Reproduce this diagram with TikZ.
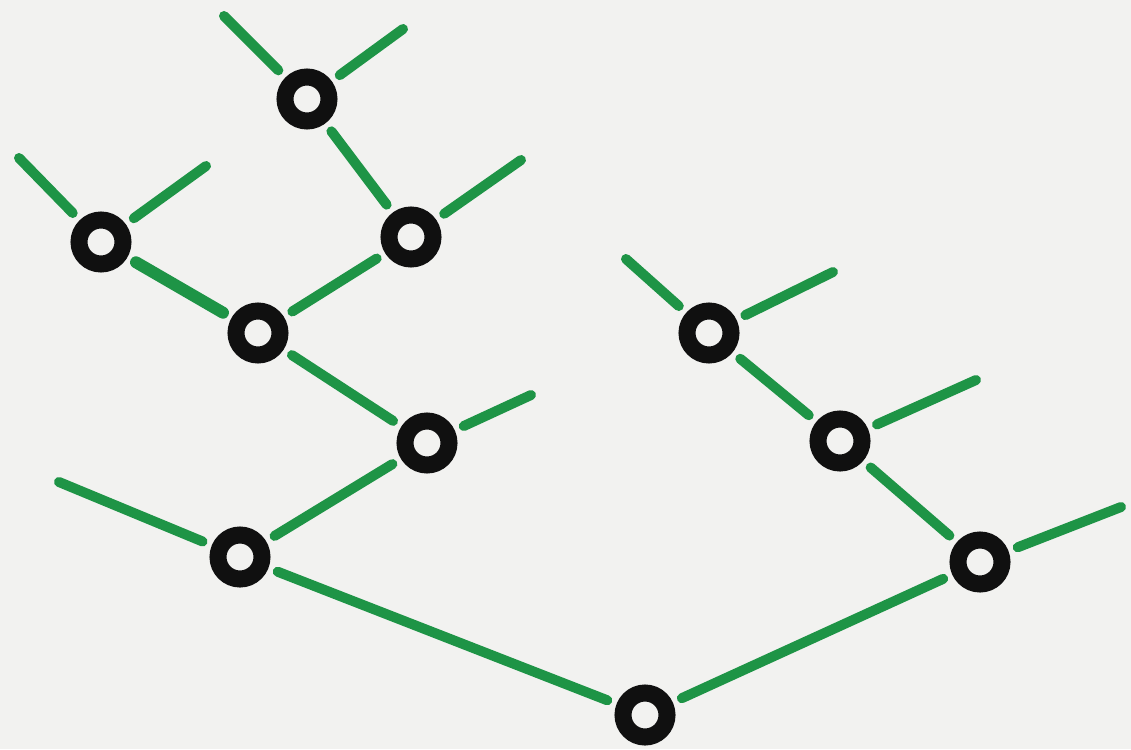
\documentclass[tikz,border=0pt]{standalone}
\usepackage{tikz}
\usetikzlibrary{positioning}
\definecolor{PaperGrey}{RGB}{242,242,240}
\definecolor{MarkerGreen}{RGB}{30,148,70}
\definecolor{MarkerBlack}{RGB}{16,16,16}

\begin{document}
\begin{tikzpicture}[x=1pt,y=-1pt,
  knot/.style={circle, draw=MarkerBlack, line width=17pt, minimum size=44pt, inner sep=0pt},
  twig/.style={MarkerGreen, line width=10pt, line cap=round, shorten <=10pt, shorten >=10pt},
  stub/.style={MarkerGreen, line width=10pt, line cap=round, shorten <=10pt}]
  \path[use as bounding box] (0,0) rectangle (1131,749);
  \fill[PaperGrey] (0,0) rectangle (1131,749);

  % knots of the tree
  \node[knot] (root) at (645,715) {};
  \node[knot] (a) at (240,557) {};
  \node[knot] (b) at (980,562) {};
  \node[knot] (c) at (427,443) {};
  \node[knot] (d) at (840,441) {};
  \node[knot] (e) at (258,333) {};
  \node[knot] (f) at (709,333) {};
  \node[knot] (g) at (101,242) {};
  \node[knot] (h) at (411,237) {};
  \node[knot] (i) at (307,99) {};

  % free ends of the leaves
  \coordinate (ia) at (224,16);
  \coordinate (ib) at (403,29);
  \coordinate (ga) at (19,158);
  \coordinate (gb) at (206,166);
  \coordinate (hb) at (521,160);
  \coordinate (cb) at (531,395);
  \coordinate (aa) at (59,482);
  \coordinate (fa) at (626,259);
  \coordinate (fb) at (833,272);
  \coordinate (db) at (976,380);
  \coordinate (bb) at (1121,507);

  % inner branches
  \draw[twig] (root) -- (a);
  \draw[twig] (root) -- (b);
  \draw[twig] (a) -- (c);
  \draw[twig] (c) -- (e);
  \draw[twig, line width=12pt] (e) -- (g);
  \draw[twig] (e) -- (h);
  \draw[twig] (h) -- (i);
  \draw[twig] (b) -- (d);
  \draw[twig] (d) -- (f);

  % leaves
  \draw[stub] (i) -- (ia);
  \draw[stub] (i) -- (ib);
  \draw[stub] (g) -- (ga);
  \draw[stub] (g) -- (gb);
  \draw[stub] (h) -- (hb);
  \draw[stub] (c) -- (cb);
  \draw[stub] (a) -- (aa);
  \draw[stub] (f) -- (fa);
  \draw[stub] (f) -- (fb);
  \draw[stub] (d) -- (db);
  \draw[stub] (b) -- (bb);
\end{tikzpicture}
\end{document}
